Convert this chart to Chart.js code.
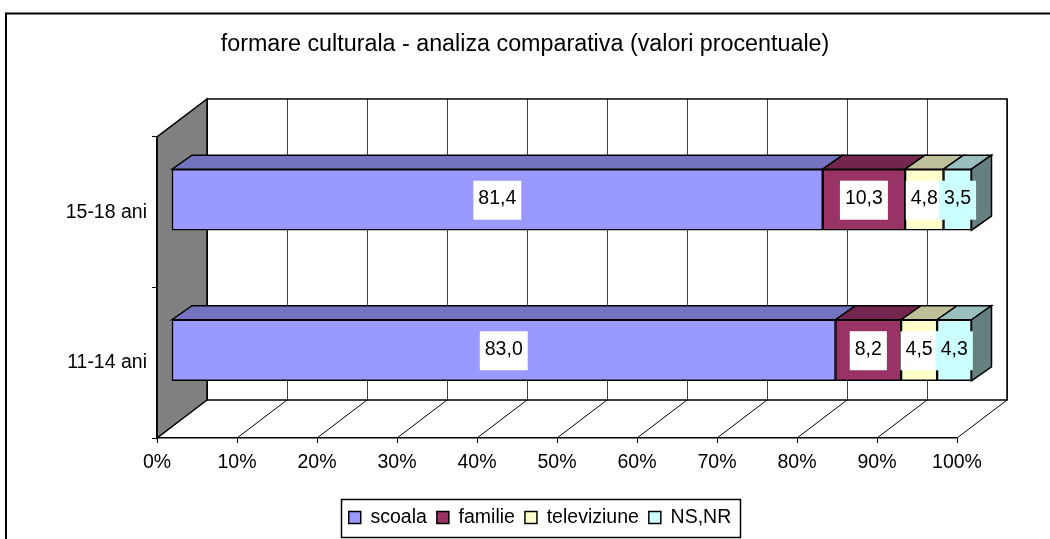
<!DOCTYPE html>
<html>
<head>
<meta charset="utf-8">
<script src="https://cdn.jsdelivr.net/npm/chart.js@4.4.1/dist/chart.umd.min.js"></script>
<style>
  html, body { margin: 0; padding: 0; background: #fff; }
</style>
</head>
<body>
<canvas id="grafic" width="1050" height="539"></canvas>
<script>
// Date --------------------------------
const categorii = ['15-18 ani', '11-14 ani'];
const scoala = [81.4, 83.0];
const familie = [10.3, 8.2];
const televiziune = [4.8, 4.5];
const nsnr = [3.5, 4.3];
const tickuriX = [0, 10, 20, 30, 40, 50, 60, 70, 80, 90, 100];

// Culori: fata, partea de sus, lateral
const culoriFata = ['#9999FF', '#993366', '#FFFFCC', '#CCFFFF'];
const culoriSus = ['#7373BF', '#73264D', '#BFBF99', '#99BFBF'];
const culoareLateral = '#668080';
const fundalEticheta = ['#FFFFFF', '#FFFFFF', '#FFFFFF', '#CCFFFF'];

Chart.defaults.font.family = '"Liberation Sans", Arial, sans-serif';
Chart.defaults.color = '#000';

// adancimea peretelui / a barelor (efect 3D ca in Excel)
const perete = { dx: 50, dy: -38 };
const bara = { dx: 14.5, dy: -12.5 };
const grosime = { dx: 20, dy: -14 };

function poligon(ctx, puncte, fill) {
    ctx.beginPath();
    ctx.moveTo(puncte[0][0], puncte[0][1]);
    for (let i = 1; i < puncte.length; i++) ctx.lineTo(puncte[i][0], puncte[i][1]);
    ctx.closePath();
    if (fill) { ctx.fillStyle = fill; ctx.fill(); }
    ctx.stroke();
}

function linie(ctx, x1, y1, x2, y2) {
    ctx.beginPath();
    ctx.moveTo(x1, y1);
    ctx.lineTo(x2, y2);
    ctx.stroke();
}

const efect3d = {
    id: 'efect3d',
    afterLayout(chart) {
        // titlul centrat pe toata latimea, legenda putin spre dreapta
        const t = chart.titleBlock;
        t.left = 0; t.right = 1050; t.width = 1050;
        const lg = chart.legend;
        const w = lg.right - lg.left;
        lg.left = 540 - w / 2;
        lg.right = lg.left + w;
    },
    beforeDraw(chart) {
        const { ctx, chartArea: a, scales: { x } } = chart;
        ctx.save();
        // rama exterioara
        ctx.strokeStyle = '#000';
        ctx.lineWidth = 2;
        ctx.strokeRect(6, 13.5, 1100, 600);

        const L = a.left, R = a.right, T = a.top, B = a.bottom;
        const dx = perete.dx, dy = perete.dy;

        // peretele din spate + grila
        ctx.fillStyle = '#fff';
        ctx.fillRect(L + dx, T + dy, R - L, B - T);
        ctx.lineWidth = 1;
        ctx.strokeStyle = '#404040';
        tickuriX.forEach(v => {
            const px = Math.round(x.getPixelForValue(v)) + dx + 0.5;
            linie(ctx, px, T + dy, px, B + dy);
        });
        // podeaua: diagonale
        ctx.strokeStyle = '#000';
        tickuriX.forEach(v => {
            const px = x.getPixelForValue(v);
            linie(ctx, px, B, px + dx, B + dy);
        });
        ctx.lineWidth = 1.5;
        ctx.strokeRect(L + dx, T + dy, R - L, B - T);

        // peretele lateral
        poligon(ctx, [[L, T], [L + dx, T + dy], [L + dx, B + dy], [L, B]], '#808080');
        ctx.restore();
    },
    beforeDatasetsDraw(chart) {
        const ctx = chart.ctx;
        ctx.save();
        ctx.translate(bara.dx, bara.dy);
        ctx.strokeStyle = '#000';
        ctx.lineWidth = 1.5;
        const ultim = chart.data.datasets.length - 1;
        chart.data.datasets.forEach((ds, i) => {
            chart.getDatasetMeta(i).data.forEach(el => {
                const { x, base, y, height } = el.getProps(['x', 'base', 'y', 'height'], true);
                const sus = y - height / 2;
                const gx = grosime.dx, gy = grosime.dy;
                poligon(ctx, [[base, sus], [x, sus], [x + gx, sus + gy], [base + gx, sus + gy]], culoriSus[i]);
                if (i === ultim) {
                    poligon(ctx, [[x, sus], [x + gx, sus + gy], [x + gx, sus + gy + height], [x, sus + height]], culoareLateral);
                }
            });
        });
    },
    afterDatasetsDraw(chart) {
        const ctx = chart.ctx;
        ctx.font = '19.5px "Liberation Sans", Arial, sans-serif';
        ctx.textAlign = 'center';
        ctx.textBaseline = 'middle';
        chart.data.datasets.forEach((ds, i) => {
            chart.getDatasetMeta(i).data.forEach((el, j) => {
                const { x, base, y } = el.getProps(['x', 'base', 'y'], true);
                const text = ds.data[j].toFixed(1).replace('.', ',');
                const cx = (x + base) / 2;
                const w = ctx.measureText(text).width + 10;
                ctx.fillStyle = fundalEticheta[i];
                ctx.fillRect(cx - w / 2, y - 19, w, 39);
                ctx.fillStyle = '#000';
                ctx.fillText(text, cx, y - 1);
            });
        });
        ctx.restore();
    },
    afterDraw(chart) {
        // chenarul legendei
        const ctx = chart.ctx;
        const hb = chart.legend.legendHitBoxes;
        if (!hb || !hb.length) return;
        const st = hb[0].left - 8;
        const dr = hb[hb.length - 1].left + hb[hb.length - 1].width + 8;
        const cy = hb[0].top + hb[0].height / 2;
        ctx.save();
        ctx.strokeStyle = '#000';
        ctx.lineWidth = 1.5;
        ctx.strokeRect(Math.round(st) + 0.5, Math.round(cy - 19) + 0.5, Math.round(dr - st), 38);
        ctx.restore();
    }
};

const serii = [
    { label: 'scoala', data: scoala },
    { label: 'familie', data: familie },
    { label: 'televiziune', data: televiziune },
    { label: 'NS,NR', data: nsnr }
];

new Chart(document.getElementById('grafic'), {
    type: 'bar',
    data: {
        labels: categorii,
        datasets: serii.map((s, i) => ({
            label: s.label,
            data: s.data,
            backgroundColor: culoriFata[i],
            borderColor: '#000',
            borderWidth: 1.5,
            borderSkipped: false,
            barThickness: 61,
            clip: false
        }))
    },
    options: {
        indexAxis: 'y',
        responsive: false,
        animation: false,
        devicePixelRatio: 1,
        layout: { padding: { left: 0, right: 93, top: 0, bottom: 1.75 } },
        scales: {
            x: {
                stacked: true,
                min: 0,
                max: 100,
                ticks: {
                    stepSize: 10,
                    callback: v => v + '%',
                    font: { size: 19.5 },
                    padding: 8,
                    maxRotation: 0,
                    autoSkip: false
                },
                grid: { drawOnChartArea: false, tickLength: 5, color: '#000' },
                border: { color: '#000', width: 1.5 },
                afterFit: s => { s.height = 59.75; }
            },
            y: {
                stacked: true,
                ticks: { font: { size: 19.5 }, padding: 5 },
                grid: { offset: true, drawOnChartArea: false, tickLength: 5, color: '#000' },
                border: { color: '#000', width: 1.5 },
                afterFit: s => { s.width = 157; }
            }
        },
        plugins: {
            title: {
                display: true,
                text: 'formare culturala - analiza comparativa (valori procentuale)',
                font: { size: 23.3, weight: 'normal' },
                padding: { top: 31, bottom: 78 }
            },
            legend: {
                position: 'bottom',
                labels: { boxWidth: 12, boxHeight: 12, padding: 10, font: { size: 19.5 } }
            },
            tooltip: { enabled: false }
        }
    },
    plugins: [efect3d]
});
</script>
</body>
</html>
